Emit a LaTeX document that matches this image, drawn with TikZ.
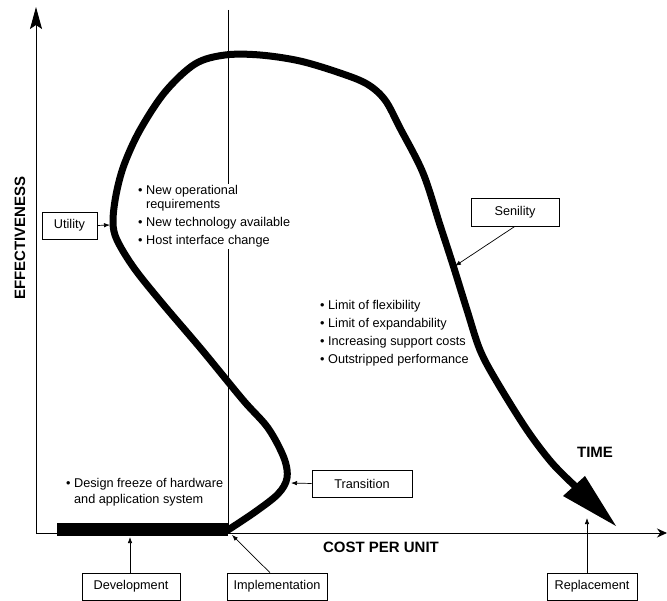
\documentclass[tikz,border=0pt]{standalone}
\usepackage{fontspec}
\setmainfont{Liberation Sans}
\usetikzlibrary{arrows.meta}
\newcommand{\itemdot}{•\hspace{3.5pt}}
\newcommand{\itemgap}{\hphantom{•\hspace{3.5pt}}}
\begin{document}
\begin{tikzpicture}[x=1pt,y=-1pt,
  every node/.style={font=\fontsize{12.7}{14.5}\selectfont},
  labelbox/.style={draw, line width=0.6pt, fill=white, inner sep=0pt,
    minimum height=27pt, font=\fontsize{12.7}{14.5}\selectfont},
  pointer/.style={-{Latex[length=6pt,width=4.5pt]}, line width=0.7pt},
  axisline/.style={line width=0.9pt},
  note/.style={align=left, anchor=north west, inner sep=1pt,
    font=\fontsize{12.7}{14.5}\selectfont},
  axistitle/.style={font=\bfseries\fontsize{15}{17}\selectfont},
  life/.style={line width=7pt, line cap=round, line join=round}]

\useasboundingbox (0,0) rectangle (667,601);

% axes and the implementation marker line
\draw[axisline, -{Stealth[length=22pt,width=12pt,inset=4pt]}] (36,533) -- (36,7);
\draw[axisline, -{Stealth[length=10pt,width=9pt]}] (36,533) -- (667,533);
\draw[line width=0.6pt] (228,10) -- (228,533);

% axis titles
\node[axistitle, rotate=90] (eff) at (20,238) {EFFECTIVENESS};
\node[axistitle] (cost) at (381,547) {COST PER UNIT};
\node[axistitle] (time) at (595,452) {TIME};

% bullet notes
\node[note, fill=white] (needs) at (137,184)
  {\itemdot New operational\\ \itemgap requirements\\[3.5pt]
   \itemdot New technology available\\[3.5pt]
   \itemdot Host interface change};
\node[note] (limits) at (319,299)
  {\itemdot Limit of flexibility\\[3.5pt]
   \itemdot Limit of expandability\\[3.5pt]
   \itemdot Increasing support costs\\[3.5pt]
   \itemdot Outstripped performance};
\node[note] (freeze) at (65,477)
  {\itemdot Design freeze of hardware\\[2pt] \itemgap and application system};

% development phase bar
\fill (57,523) rectangle (228,536);

% life cycle curve
\draw[life] plot[smooth, tension=0.55] coordinates {
  (228,530) (255,512) (278,494) (287,478) (284,458) (268,428) (243,400)
  (202,350) (162,303) (134,268) (117,240) (113,222) (116,195) (124,165)
  (140,130) (165,92) (195,64) (225,55) (260,55) (300,61) (340,73)
  (367,84) (385,100) (400,128) (423,173) (440,225) (453,265) (467,310)
  (480,350) (497,382) (527,430) (552,463) (575,486)};
\fill (563,496) -- (585,476) -- (616,526) -- cycle;

% phase labels
\node[labelbox, minimum width=55pt] (util) at (69.5,225.5) {Utility};
\node[labelbox, minimum width=88pt, minimum height=28pt] (sen) at (515,212) {Senility};
\node[labelbox, minimum width=100pt] (tran) at (362,483.5) {Transition};
\node[labelbox, minimum width=98pt] (dev) at (131,586.5) {Development};
\node[labelbox, minimum width=100pt] (impl) at (277,586.5) {Implementation};
\node[labelbox, minimum width=90pt] (rep) at (592,586.5) {Replacement};

% points on the curve and axis that the labels refer to
\coordinate (p-util) at (110,225);
\coordinate (p-sen) at (455,266);
\coordinate (p-tran) at (291,483);
\coordinate (p-dev) at (130,537);
\coordinate (p-impl) at (232,535);
\coordinate (p-rep) at (587,518);

\draw[pointer] (util.east) -- (p-util);
\draw[pointer] (sen.south) -- (p-sen);
\draw[pointer] (tran.west) -- (p-tran);
\draw[pointer] (dev.north -| p-dev) -- (p-dev);
\draw[pointer] ([xshift=-7pt]impl.north) -- (p-impl);
\draw[pointer] (rep.north -| p-rep) -- (p-rep);
\end{tikzpicture}
\end{document}
